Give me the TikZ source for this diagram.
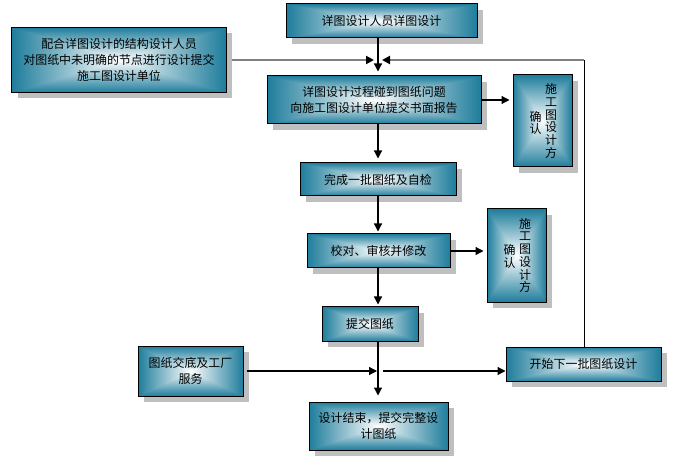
\documentclass[tikz,border=0pt]{standalone}
\usepackage{fontspec}
\setmainfont{Noto Sans CJK SC}
\usepackage{tikz}
\usetikzlibrary{arrows.meta,shadows,positioning}

\pgfdeclarefunctionalshading{boxshade}{\pgfpoint{-50bp}{-50bp}}{\pgfpoint{50bp}{50bp}}{}{
  abs exch abs 2 copy lt {exch} if pop 25 div dup 1 gt {pop 1} if
  dup -0.88 mul 1 add exch dup -0.51 mul 1 add exch -0.39 mul 1 add
}

\tikzset{
  blk/.style={draw=black, line width=1bp, shade, shading=boxshade, align=center,
    inner sep=0pt, font=\fontsize{12}{16.5}\selectfont,
    drop shadow={shadow xshift=6bp, shadow yshift=-6bp, fill=black!25, opacity=1}},
  vtxt/.style={align=center, inner sep=0pt, font=\fontsize{12}{12.8}\selectfont},
  ar/.style={-{Triangle[length=8bp,width=8bp]}, line width=1.2bp, shorten >=4bp},
  fb/.style={draw=black!50, line width=2bp, -{Triangle[length=8bp,width=8bp,color=black,fill=black]}}
}

\begin{document}
\begin{tikzpicture}[x=1bp, y=-1bp]
   \useasboundingbox (0,0) rectangle (676,476);
   \coordinate (spine) at (378,0);
   \coordinate (jl) at (374,60);
   \coordinate (jr) at (382,60);
   \coordinate (ret) at (584,60);
   \coordinate (jb) at (377,371);
   \coordinate (jb2) at (383,371);
   \begin{scope}[every node/.append style={blk}]
    \node (top) at (381.5,21) [minimum width=191bp, minimum height=34bp] {详图设计人员详图设计};
    \node (left) at (119,60) [minimum width=214bp, minimum height=65bp] {配合详图设计的结构设计人员\\对图纸中未明确的节点进行设计提交\\施工图设计单位};
    \node (rep) at (374,100) [minimum width=214bp, minimum height=48bp] {详图设计过程碰到图纸问题\\向施工图设计单位提交书面报告};
    \node (conf1) at (542.5,121) [minimum width=59bp, minimum height=92bp] {};
    \node (batch) at (378,179.5) [minimum width=156bp, minimum height=33bp] {完成一批图纸及自检};
    \node (check) at (378.5,251) [minimum width=143bp, minimum height=34bp] {校对、审核并修改};
    \node (conf2) at (516.5,255.5) [minimum width=59bp, minimum height=93bp] {};
    \node (submit) at (370,324) [minimum width=96bp, minimum height=34bp] {提交图纸};
    \node (hand) at (190.5,371) [minimum width=105bp, minimum height=50bp] {图纸交底及工厂\\服务};
    \node (final) at (378.5,426) [minimum width=139bp, minimum height=48bp] {设计结束，提交完整设\\计图纸};
    \node (next) at (583.5,364) [minimum width=155bp, minimum height=34bp] {开始下一批图纸设计};
   \end{scope}
   \node[vtxt] (c1a) at ([xshift=8.5bp]conf1.center) {施\\工\\图\\设\\计\\方};
   \node[vtxt] (c1b) at ([xshift=-7bp,yshift=-2bp]conf1.center) {确\\认};
   \node[vtxt] (c2a) at ([xshift=8.5bp]conf2.center) {施\\工\\图\\设\\计\\方};
   \node[vtxt] (c2b) at ([xshift=-7bp,yshift=-1bp]conf2.center) {确\\认};
   \draw[fb, shorten <=5bp] (left.east) -- (left.east -| jl);
   \draw[line width=1bp] (next.north -| ret) -- (ret);
   \draw[fb] (ret) -- (jr);
   \draw[ar] (top.south -| spine) -- (rep.north -| spine);
   \draw[ar, shorten >=3bp] (rep.east) -- (rep.east -| conf1.west);
   \draw[ar] (rep.south -| spine) -- (batch.north -| spine);
   \draw[ar, shorten >=2bp] (batch.south -| spine) -- (check.north -| spine);
   \draw[ar, shorten >=3bp] (check.east) -- (check.east -| conf2.west);
   \draw[ar, shorten >=2bp] (check.south -| spine) -- (submit.north -| spine);
   \draw[ar, shorten >=6bp] (submit.south -| spine) -- (final.north -| spine);
   \draw[ar, shorten <=3bp, shorten >=0bp] (hand.east) -- (jb);
   \draw[ar, shorten >=0bp] (jb2) -- (jb2 -| next.west);
\end{tikzpicture}
\end{document}
